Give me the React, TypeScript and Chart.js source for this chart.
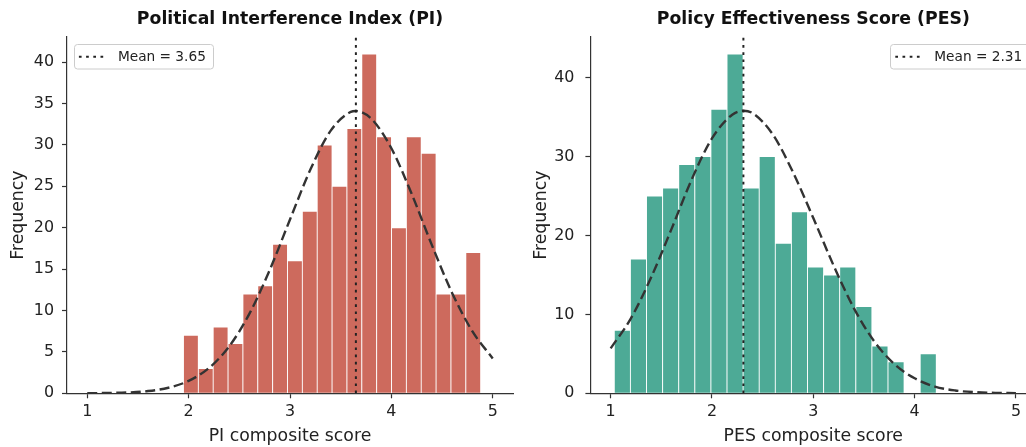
import React, { useEffect, useRef } from "react";
import { Chart, registerables } from "chart.js";

Chart.register(...registerables);

const FONT = "'DejaVu Sans', 'Liberation Sans', sans-serif";
const H = 447;
const PLOT_BOTTOM = 393.3;

// ---------- shared ticks ----------
const X_TICKS = [1, 2, 3, 4, 5];
const X_RANGE = [0.8, 5.2];

// ---------- Political Interference Index (PI) ----------
const PI_TITLE = "Political Interference Index (PI)";
const PI_XLABEL = "PI composite score";
const PI_BIN_RANGE = [1.949, 4.881];
const PI_COUNTS = [7, 3, 8, 6, 12, 13, 18, 16, 22, 30, 25, 32, 41, 31, 20, 31, 29, 12, 12, 17];
const PI_MEAN = 3.65;
const PI_CURVE_X = [1.0, 1.2, 1.4, 1.6, 1.8, 2.0, 2.2, 2.4, 2.6, 2.8, 3.0, 3.2, 3.4, 3.6, 3.65, 3.8, 4.0, 4.2, 4.4, 4.6, 4.8, 5.0];
const PI_CURVE_Y = [0.01, 0.04, 0.1, 0.27, 0.67, 1.5, 3.05, 5.67, 9.62, 14.9, 21.0, 27.0, 31.7, 34.0, 34.1, 33.2, 29.6, 24.1, 17.9, 12.1, 7.47, 4.21];
const PI_Y_TICKS = [0, 5, 10, 15, 20, 25, 30, 35, 40];
const PI_Y_MAX = 43.05;

// ---------- Policy Effectiveness Score (PES) ----------
const PES_TITLE = "Policy Effectiveness Score (PES)";
const PES_XLABEL = "PES composite score";
const PES_BIN_RANGE = [1.036, 4.214];
const PES_COUNTS = [8, 17, 25, 26, 29, 30, 36, 43, 26, 30, 19, 23, 16, 15, 16, 11, 6, 4, 0, 5];
const PES_MEAN = 2.31;
const PES_CURVE_X = [1.0, 1.2, 1.4, 1.6, 1.8, 2.0, 2.2, 2.31, 2.4, 2.6, 2.8, 3.0, 3.2, 3.4, 3.6, 3.8, 4.0, 4.2, 4.4, 4.6, 4.8, 5.0];
const PES_CURVE_Y = [5.7, 9.5, 14.7, 20.8, 27.1, 32.3, 35.3, 35.8, 35.5, 32.8, 28.0, 22.2, 16.2, 10.8, 6.6, 3.7, 1.9, 0.85, 0.36, 0.14, 0.05, 0.02];
const PES_Y_TICKS = [0, 10, 20, 30, 40];
const PES_Y_MAX = 45.15;

type Props = {
  left: number;
  canvasW: number;
  areaLeft: number;
  areaRight: number;
  yTitlePad: number;
  yTickPad: number;
  title: string;
  xLabel: string;
  binRange: number[];
  counts: number[];
  color: string;
  mean: number;
  curveX: number[];
  curveY: number[];
  yTicks: number[];
  yMax: number;
  legendRight: boolean;
};

function HistChart(p: Props) {
  const ref = useRef<HTMLCanvasElement>(null);
  useEffect(() => {
    const canvas = ref.current!;
    const binW = (p.binRange[1] - p.binRange[0]) / p.counts.length;
    const bars = p.counts.map((c, i) => ({ x: p.binRange[0] + (i + 0.5) * binW, y: c }));
    const curve = p.curveX.map((x, i) => ({ x, y: p.curveY[i] }));
    const meanLine = [
      { x: p.mean, y: 0 },
      { x: p.mean, y: p.yMax },
    ];
    const legendText = `Mean = ${p.mean.toFixed(2)}`;

    const legendPlugin = {
      id: "meanLegend",
      afterDatasetsDraw(chart: any) {
        const { ctx, chartArea } = chart;
        const w = 139;
        const h = 24.5;
        const x = p.legendRight ? chartArea.right - 6.9 - w : chartArea.left + 6.9;
        const y = chartArea.top + 7.5;
        ctx.save();
        ctx.beginPath();
        ctx.roundRect(Math.round(x) + 0.5, Math.round(y) + 0.5, w, h, 3);
        ctx.fillStyle = "rgba(255,255,255,0.8)";
        ctx.fill();
        ctx.strokeStyle = "#cccccc";
        ctx.lineWidth = 1;
        ctx.stroke();
        const cy = Math.round(y) + 0.5 + h / 2;
        ctx.beginPath();
        ctx.setLineDash([2.7, 4.5]);
        ctx.moveTo(x + 5, cy);
        ctx.lineTo(x + 31, cy);
        ctx.strokeStyle = "#222";
        ctx.lineWidth = 2;
        ctx.stroke();
        ctx.setLineDash([]);
        ctx.font = `13.7px ${FONT}`;
        ctx.fillStyle = "#222";
        ctx.textBaseline = "middle";
        ctx.textAlign = "left";
        ctx.fillText(legendText, x + 44, cy + 0.5);
        ctx.restore();
      },
    };

    const tickFont = { family: FONT, size: 15.9 };
    const labelFont = { family: FONT, size: 17.3 };

    const chart = new Chart(canvas, {
      type: "bar",
      data: {
        datasets: [
          {
            type: "bar",
            data: bars,
            backgroundColor: p.color,
            borderColor: "#ffffff",
            borderWidth: 0.8,
            barPercentage: 1,
            categoryPercentage: 1,
            order: 3,
          } as any,
          {
            type: "line",
            data: curve,
            borderColor: "#333333",
            borderWidth: 2.4,
            borderDash: [10, 4.5],
            pointRadius: 0,
            cubicInterpolationMode: "monotone",
            fill: false,
            order: 2,
          } as any,
          {
            type: "line",
            data: meanLine,
            borderColor: "#222222",
            borderWidth: 2,
            borderDash: [2.7, 4.5],
            pointRadius: 0,
            fill: false,
            order: 1,
          } as any,
        ],
      },
      options: {
        animation: false,
        responsive: false,
        events: [],
        layout: { padding: { left: 0, right: p.canvasW - p.areaRight, top: 0, bottom: 0 } },
        plugins: {
          legend: { display: false },
          tooltip: { enabled: false },
          title: {
            display: true,
            text: p.title,
            fullSize: false,
            color: "#111111",
            font: { family: FONT, size: 17.3, weight: "bold" },
            padding: { top: 9.6, bottom: 6.6 },
          },
        },
        scales: {
          x: {
            type: "linear",
            min: X_RANGE[0],
            max: X_RANGE[1],
            offset: false,
            afterBuildTicks: (s: any) => {
              s.ticks = X_TICKS.map((v) => ({ value: v }));
            },
            afterFit: (s: any) => {
              s.height = H - PLOT_BOTTOM;
            },
            grid: {
              display: true,
              drawOnChartArea: false,
              drawTicks: true,
              tickLength: 5,
              tickColor: "#333333",
              tickWidth: 1.2,
              offset: false,
            },
            border: { display: true, color: "#333333", width: 1.2 },
            ticks: {
              color: "#222222",
              font: tickFont,
              padding: 4.5,
              maxRotation: 0,
              autoSkip: false,
              callback: (v: any) => String(v),
            },
            title: {
              display: true,
              text: p.xLabel,
              color: "#222222",
              font: labelFont,
              padding: { top: 0, bottom: 0 },
            },
          } as any,
          y: {
            type: "linear",
            min: 0,
            max: p.yMax,
            afterBuildTicks: (s: any) => {
              s.ticks = p.yTicks.map((v) => ({ value: v }));
            },
            afterFit: (s: any) => {
              s.width = p.areaLeft;
            },
            grid: {
              display: true,
              drawOnChartArea: false,
              drawTicks: true,
              tickLength: 5,
              tickColor: "#333333",
              tickWidth: 1.2,
            },
            border: { display: true, color: "#333333", width: 1.2 },
            ticks: {
              color: "#222222",
              font: tickFont,
              padding: p.yTickPad,
              autoSkip: false,
              callback: (v: any) => String(v),
            },
            title: {
              display: true,
              text: "Frequency",
              color: "#222222",
              font: labelFont,
              padding: { top: p.yTitlePad, bottom: 0 },
            },
          } as any,
        },
      },
      plugins: [legendPlugin],
    });
    return () => chart.destroy();
  }, []);

  return (
    <canvas
      ref={ref}
      width={p.canvasW}
      height={H}
      style={{ position: "absolute", left: p.left, top: 0, width: p.canvasW, height: H, display: "block" }}
    />
  );
}

export default function App() {
  return (
    <div
      style={{
        position: "fixed",
        left: 0,
        top: 0,
        width: 1026,
        height: H,
        overflow: "hidden",
        background: "#ffffff",
      }}
    >
      <HistChart
        left={0}
        canvasW={530}
        areaLeft={67}
        areaRight={513}
        yTitlePad={7.9}
        yTickPad={8}
        title={PI_TITLE}
        xLabel={PI_XLABEL}
        binRange={PI_BIN_RANGE}
        counts={PI_COUNTS}
        color="#CD6A5D"
        mean={PI_MEAN}
        curveX={PI_CURVE_X}
        curveY={PI_CURVE_Y}
        yTicks={PI_Y_TICKS}
        yMax={PI_Y_MAX}
        legendRight={false}
      />
      <HistChart
        left={530}
        canvasW={530}
        areaLeft={60.4}
        areaRight={506.2}
        yTitlePad={1.3}
        yTickPad={11}
        title={PES_TITLE}
        xLabel={PES_XLABEL}
        binRange={PES_BIN_RANGE}
        counts={PES_COUNTS}
        color="#4DAA96"
        mean={PES_MEAN}
        curveX={PES_CURVE_X}
        curveY={PES_CURVE_Y}
        yTicks={PES_Y_TICKS}
        yMax={PES_Y_MAX}
        legendRight={true}
      />
    </div>
  );
}
